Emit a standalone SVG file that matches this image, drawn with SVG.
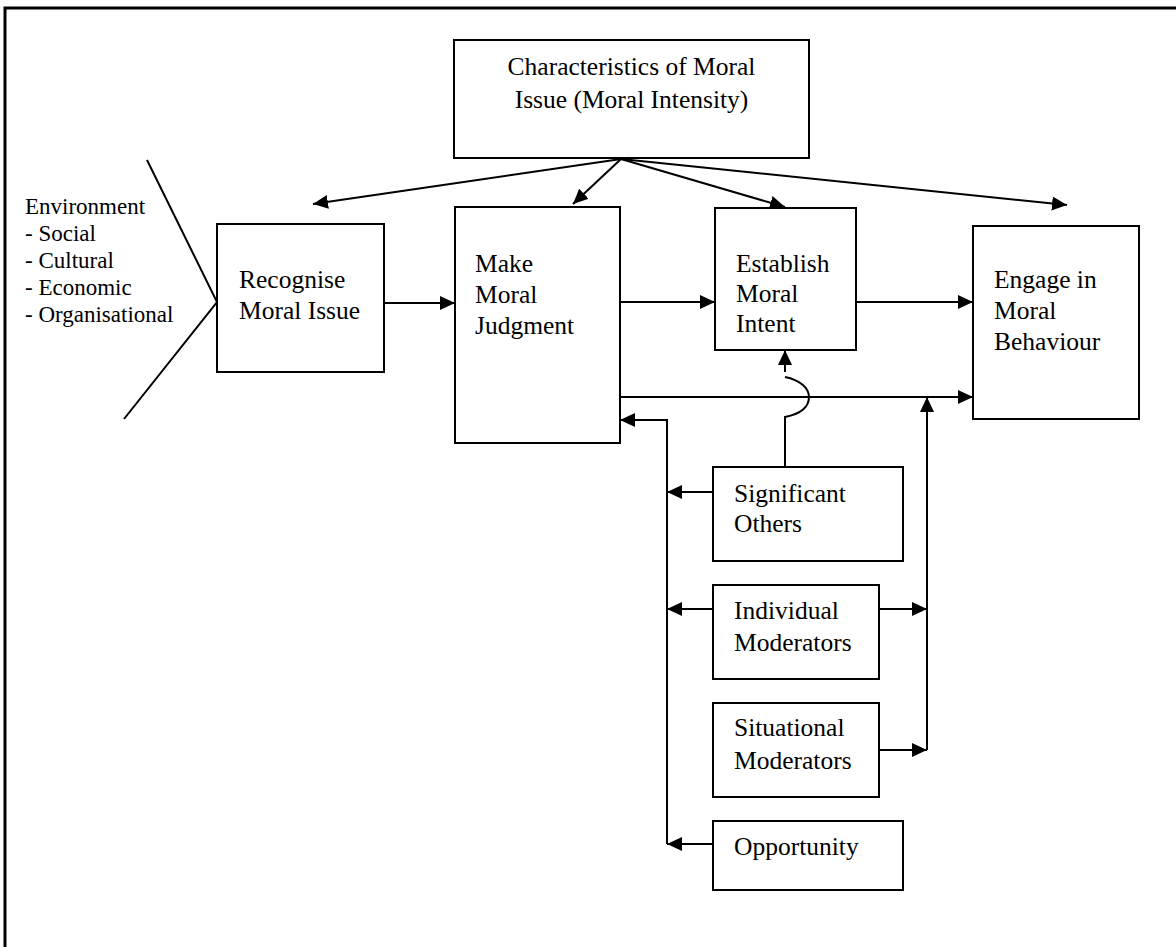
<svg xmlns="http://www.w3.org/2000/svg" width="1176" height="947" viewBox="0 0 1176 947">
<style>
.box{fill:#fff;stroke:#000;stroke-width:2}
.t{font-family:"Liberation Serif","Times New Roman",serif;font-size:25.5px;fill:#000}
.env{font-family:"Liberation Serif","Times New Roman",serif;font-size:23px;fill:#000}
.ln{fill:none;stroke:#000;stroke-width:2}
.ar{fill:none;stroke:#000;stroke-width:2;marker-end:url(#ah)}
</style>
<defs>
<marker id="ah" markerUnits="userSpaceOnUse" markerWidth="16" markerHeight="16" refX="15" refY="7" orient="auto">
<path d="M0,0 L15,7 L0,14 z" fill="#000"/>
</marker>
</defs>
<rect width="1176" height="947" fill="#fff"/>
<g id="frame">
<path d="M1176,8 L5,8 L5,947" fill="none" stroke="#000" stroke-width="3"/>
</g>
<g id="environment">
<text class="env" x="25" y="214">Environment</text>
<text class="env" x="25" y="241">- Social</text>
<text class="env" x="25" y="268">- Cultural</text>
<text class="env" x="25" y="295">- Economic</text>
<text class="env" x="25" y="322">- Organisational</text>
<path class="ln" d="M147,160 L217,302 L124,419"/>
</g>
<g id="connectors">
<path class="ar" d="M621,159 L313,204"/>
<path class="ar" d="M621,159 L573,204"/>
<path class="ar" d="M621,159 L785,207"/>
<path class="ar" d="M621,159 L1067,205"/>
<path class="ar" d="M384,303 L455,303"/>
<path class="ar" d="M620,302 L715,302"/>
<path class="ar" d="M856,302 L973,302"/>
<path class="ar" d="M620,397 L973,397"/>
<path class="ln" d="M785,467 L785,417 C800,414 809,408 809,397 C809,388 800,380 785,377"/>
<path class="ar" d="M785,372 L785,350"/>
<path class="ar" d="M927,750 L927,397"/>
<path class="ar" d="M879,609 L927,609"/>
<path class="ar" d="M879,750 L927,750"/>
<path class="ar" d="M667,844 L667,420 L620,420"/>
<path class="ar" d="M713,492 L667,492"/>
<path class="ar" d="M713,609 L667,609"/>
<path class="ar" d="M713,844 L667,844"/>
</g>
<g id="moral-intensity">
<rect class="box" x="454" y="40" width="355" height="118"/>
<text class="t" x="631.5" y="75" text-anchor="middle">Characteristics of Moral</text>
<text class="t" x="631.5" y="108" text-anchor="middle">Issue (Moral Intensity)</text>
</g>
<g id="recognise">
<rect class="box" x="217" y="224" width="167" height="148"/>
<text class="t" x="239" y="288">Recognise</text>
<text class="t" x="239" y="319">Moral Issue</text>
</g>
<g id="judgment">
<rect class="box" x="455" y="207" width="165" height="236"/>
<text class="t" x="475" y="272">Make</text>
<text class="t" x="475" y="303">Moral</text>
<text class="t" x="475" y="334">Judgment</text>
</g>
<g id="intent">
<rect class="box" x="715" y="208" width="141" height="142"/>
<text class="t" x="736" y="272">Establish</text>
<text class="t" x="736" y="302">Moral</text>
<text class="t" x="736" y="332">Intent</text>
</g>
<g id="behaviour">
<rect class="box" x="973" y="226" width="166" height="193"/>
<text class="t" x="994" y="288">Engage in</text>
<text class="t" x="994" y="319">Moral</text>
<text class="t" x="994" y="350">Behaviour</text>
</g>
<g id="significant-others">
<rect class="box" x="713" y="467" width="190" height="94"/>
<text class="t" x="734" y="502">Significant</text>
<text class="t" x="734" y="532">Others</text>
</g>
<g id="individual-moderators">
<rect class="box" x="713" y="585" width="166" height="94"/>
<text class="t" x="734" y="619">Individual</text>
<text class="t" x="734" y="651">Moderators</text>
</g>
<g id="situational-moderators">
<rect class="box" x="713" y="703" width="166" height="94"/>
<text class="t" x="734" y="736">Situational</text>
<text class="t" x="734" y="769">Moderators</text>
</g>
<g id="opportunity">
<rect class="box" x="713" y="821" width="190" height="69"/>
<text class="t" x="734" y="855">Opportunity</text>
</g>
</svg>
